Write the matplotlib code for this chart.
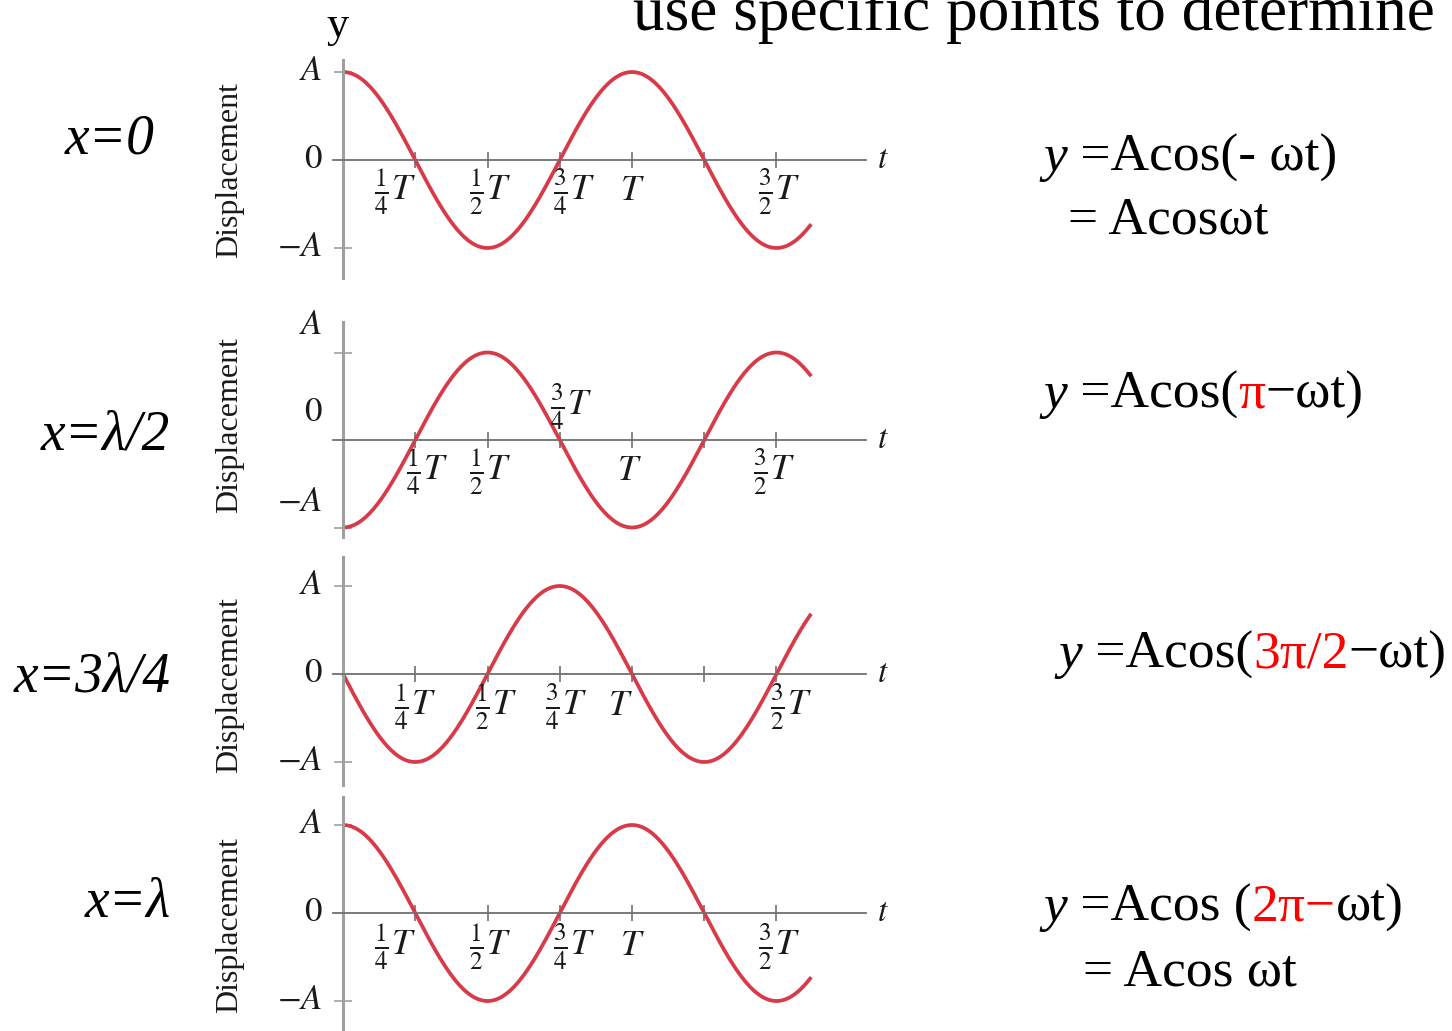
import numpy as np
import matplotlib
matplotlib.use('Agg')
import matplotlib.pyplot as plt
from matplotlib.offsetbox import TextArea, HPacker, AnnotationBbox

plt.rcParams['mathtext.fontset'] = 'stix'
plt.rcParams['font.family'] = ['Liberation Serif', 'DejaVu Serif']

W, H = 1452, 1031

# y = A cos(phase - wt) for each position x
phases = [0.0, np.pi, 1.5 * np.pi, 2 * np.pi]
t_end = 1.62
t_ticks = [0.25, 0.5, 0.75, 1.0, 1.25, 1.5]
pos_labels = ['x=0', 'x=λ/2', 'x=3λ/4', 'x=λ']

xtick_text = [r'$\frac{1}{4}T$', r'$\frac{1}{2}T$', r'$\frac{3}{4}T$', r'$T$', r'$\frac{3}{2}T$']
xtick_at = [
    [(0.18, -0.36), (0.51, -0.36), (0.80, -0.36), (1.00, -0.36), (1.51, -0.36)],
    [(0.29, -0.36), (0.51, -0.36), (0.79, 0.38), (0.99, -0.36), (1.49, -0.36)],
    [(0.25, -0.37), (0.53, -0.37), (0.77, -0.37), (0.96, -0.37), (1.55, -0.37)],
    [(0.18, -0.38), (0.51, -0.38), (0.80, -0.38), (1.00, -0.38), (1.51, -0.38)],
]
ytick_text = [r'$A$', r'$0$', r'$-A$']
ytick_at = [[1, 0, -1], [1.31, 0.31, -0.71], [1, 0, -1], [1, 0, -1]]

# layout in pixels
zero_px = [160, 440, 674, 913]
amp_px = [88, 87.5, 88, 88]
yaxis_span = [(-1.34, 1.14), (-1.11, 1.35), (-1.26, 1.33), (-1.40, 1.32)]
label_px = [(110, 140), (105, 435), (92, 678), (128, 903)]
disp_y = [170, 425, 685, 925]
t0_px, T_px = 343, 289

# equations: list of lines, each line a list of (text, color, italic)
eq_lines = [
    ((1043, 158), [('y', 'k', True), (' =Acos(- ωt)', 'k', False)]),
    ((1068, 220), [('= Acosωt', 'k', False)]),
    ((1043, 395), [('y', 'k', True), (' =Acos(', 'k', False), ('π', 'red', False), ('−ωt)', 'k', False)]),
    ((1058, 655), [('y', 'k', True), (' =Acos(', 'k', False), ('3π/2', 'red', False), ('−ωt)', 'k', False)]),
    ((1043, 908), [('y', 'k', True), (' =Acos (', 'k', False), ('2π−', 'red', False), ('ωt)', 'k', False)]),
    ((1083, 972), [('= Acos ωt', 'k', False)]),
]

fig = plt.figure(figsize=(W / 100, H / 100), dpi=100)

xlo, xhi = -0.1, 1.95
ylo, yhi = -1.45, 1.45
curve_color = '#d83a48'

for i in range(4):
    a = amp_px[i]
    left = t0_px + xlo * T_px
    top = zero_px[i] - yhi * a
    ax = fig.add_axes([left / W, 1 - (top + (yhi - ylo) * a) / H,
                       (xhi - xlo) * T_px / W, (yhi - ylo) * a / H])
    ax.set_xlim(xlo, xhi)
    ax.set_ylim(ylo, yhi)
    ax.patch.set_visible(False)
    for s in ['top', 'right']:
        ax.spines[s].set_visible(False)
    ax.spines['left'].set_position(('data', 0))
    ax.spines['left'].set_bounds(*yaxis_span[i])
    ax.spines['left'].set_color('#a0a0a0')
    ax.spines['left'].set_linewidth(2.2)
    ax.spines['bottom'].set_position(('data', 0))
    ax.spines['bottom'].set_bounds(-0.035, 1.81)
    ax.spines['bottom'].set_color('#707070')
    ax.spines['bottom'].set_linewidth(1.3)
    ax.set_xticks(t_ticks)
    ax.set_yticks([-1, 1])
    ax.tick_params(axis='x', direction='inout', length=11, width=1.2, color='#707070',
                   labelbottom=False)
    ax.tick_params(axis='y', direction='inout', length=13, width=1.2, color='#a0a0a0',
                   labelleft=False)

    t = np.linspace(0, t_end, 400)
    ax.plot(t, np.cos(phases[i] - 2 * np.pi * t), color=curve_color, lw=2.7,
            solid_capstyle='butt', clip_on=False)

    for txt, (xx, yy) in zip(xtick_text, xtick_at[i]):
        ax.text(xx, yy, txt, fontsize=26, ha='center', va='center', color='#1a1a1a')
    for txt, yy in zip(ytick_text, ytick_at[i]):
        ax.text(-0.07, yy, txt, fontsize=25, ha='right', va='center', color='#1a1a1a')
    ax.text(1.87, 0.0, r'$t$', fontsize=24, ha='center', va='center', color='#1a1a1a')

    fig.text(230 / W, 1 - disp_y[i] / H, 'Displacement', rotation=90, fontsize=23,
             ha='center', va='center', color='#1a1a1a')
    fig.text(label_px[i][0] / W, 1 - label_px[i][1] / H, pos_labels[i], fontsize=40,
             style='italic', ha='center', va='center')

for (px, py), parts in eq_lines:
    boxes = [TextArea(s, textprops=dict(color=c, fontsize=38.5,
                                        style='italic' if it else 'normal'))
             for s, c, it in parts]
    row = HPacker(children=boxes, align='baseline', pad=0, sep=0)
    ab = AnnotationBbox(row, (px / W, 1 - py / H), xycoords='figure fraction',
                        box_alignment=(0, 0.5), frameon=False, pad=0)
    fig.add_artist(ab)

fig.text(338 / W, 1 - 26 / H, 'y', fontsize=32, ha='center', va='center')
fig.text(1435 / W, 1 - 30 / H, 'use specific points to determine', fontsize=45.5,
         ha='right', va='baseline')

fig.savefig('out.png', dpi=100)
